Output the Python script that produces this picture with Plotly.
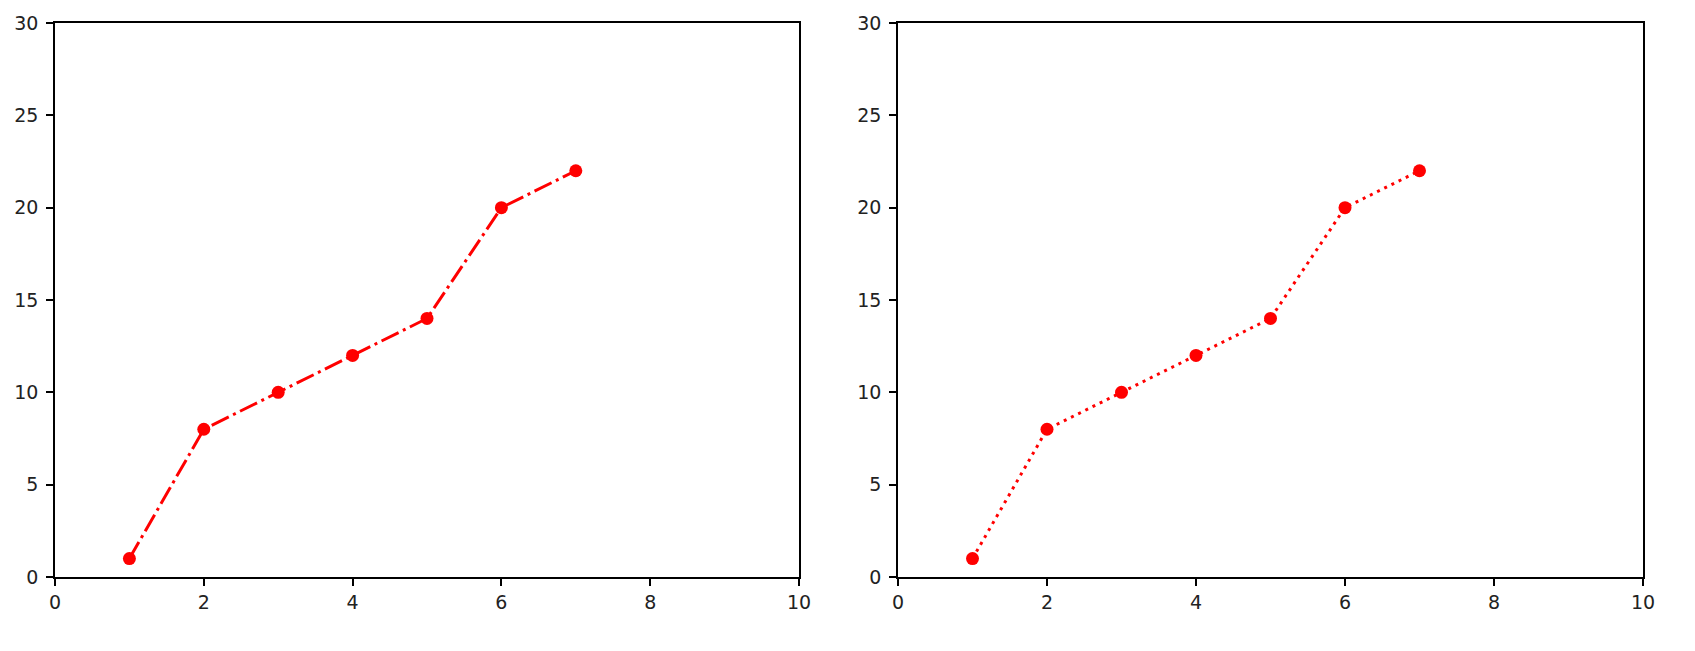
import plotly.graph_objects as go

x_vals = [1, 2, 3, 4, 5, 6, 7]
y_vals = [1, 8, 10, 12, 14, 20, 22]
x_ticks = [0, 2, 4, 6, 8, 10]
y_ticks = [0, 5, 10, 15, 20, 25, 30]

W, H = 1687, 643   # page body has an 8px margin
OFF = 8

def dx(a, b):
    return [(a - OFF) / W, (b - OFF) / W]

def dy(top, bottom):
    return [1 - (bottom - OFF) / H, 1 - (top - OFF) / H]

fig = go.Figure()
fig.add_trace(go.Scatter(x=x_vals, y=y_vals, mode="lines+markers",
                         line=dict(color="red", width=3, dash="19px,4.8px,3px,4.8px"),
                         marker=dict(color="red", size=13), xaxis="x", yaxis="y",
                         showlegend=False))
fig.add_trace(go.Scatter(x=x_vals, y=y_vals, mode="lines+markers",
                         line=dict(color="red", width=3, dash="3px,5px"),
                         marker=dict(color="red", size=13), xaxis="x2", yaxis="y2",
                         showlegend=False))

ax = dict(showgrid=False, zeroline=False, showline=True, linecolor="black", linewidth=1.6,
          mirror=True, ticks="outside", ticklen=7, tickcolor="black", tickwidth=1.6,
          tickfont=dict(family="DejaVu Sans", size=19, color="#222222"), automargin=False)
yax = dict(ax, ticklabelstandoff=4)

fig.update_layout(
    width=W, height=H,
    margin=dict(l=0, r=0, t=0, b=0),
    paper_bgcolor="white", plot_bgcolor="white",
    xaxis=dict(ax, domain=dx(55, 799), range=[0, 10], tickvals=x_ticks, anchor="y"),
    yaxis=dict(yax, domain=dy(23, 577), range=[0, 30], tickvals=y_ticks, anchor="x"),
    xaxis2=dict(ax, domain=dx(898, 1643), range=[0, 10], tickvals=x_ticks, anchor="y2"),
    yaxis2=dict(yax, domain=dy(23, 577), range=[0, 30], tickvals=y_ticks, anchor="x2"),
)

fig.write_html("out.html")
